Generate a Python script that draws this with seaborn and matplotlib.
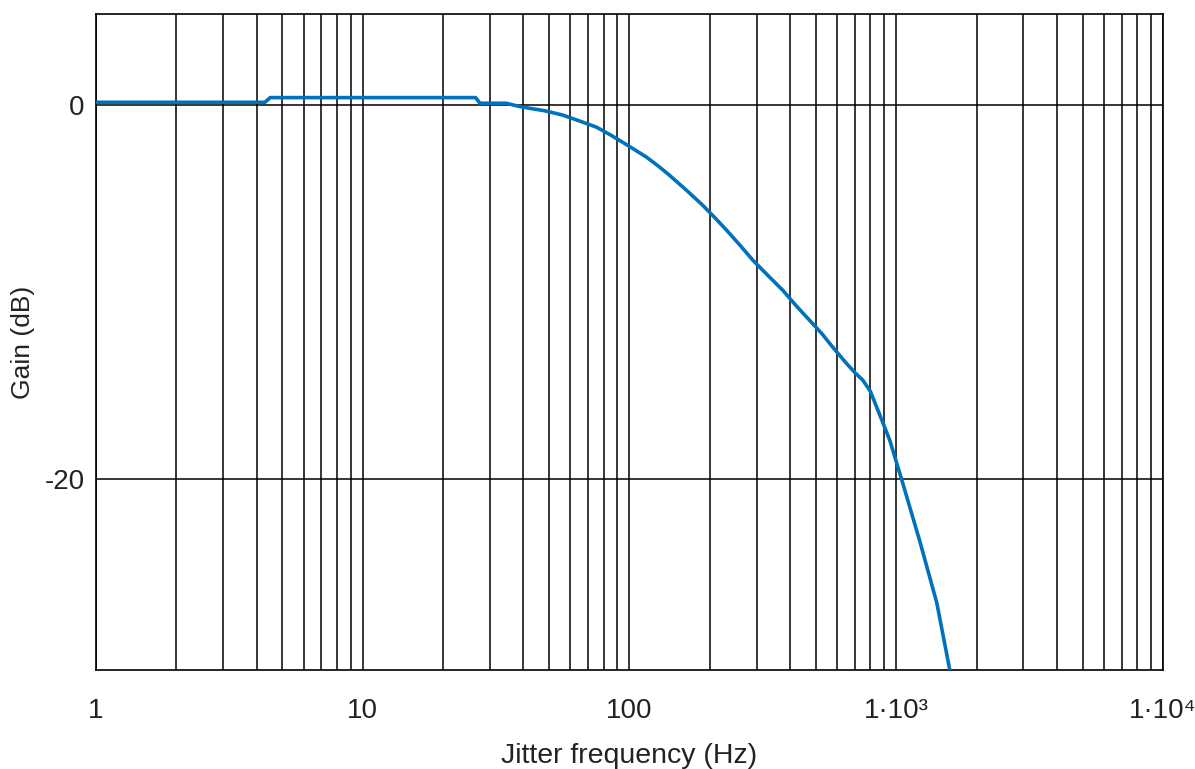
import numpy as np
import pandas as pd
import seaborn as sns
import matplotlib.pyplot as plt
from matplotlib.ticker import FixedLocator, LogLocator, NullFormatter

# gain curve
freq_hz = [1, 2, 4.3, 4.5, 8, 15, 26.5, 27.5, 34.5, 38, 42.2, 48, 56.1, 65, 75.2,
           85, 94.1, 105, 115.8, 128, 141, 165, 188, 210, 231, 260, 290, 330,
           375, 420, 473, 525, 578, 650, 700, 749, 800, 845, 945, 1050, 1225,
           1419, 1588, 1700]
gain_db = [0.15, 0.15, 0.15, 0.4, 0.4, 0.4, 0.4, 0.1, 0.1, -0.05, -0.17, -0.3,
           -0.53, -0.85, -1.18, -1.6, -1.98, -2.4, -2.78, -3.25, -3.74, -4.6,
           -5.35, -6.05, -6.68, -7.5, -8.29, -9.1, -9.89, -10.7, -11.5, -12.2,
           -12.94, -13.8, -14.3, -14.7, -15.3, -16.15, -17.9, -20.05, -23.3,
           -26.6, -30.2, -32.5]

x_ticks = [1, 10, 100, 1000, 10000]
x_labels = ["1", "10", "100", "1·10³", "1·10⁴"]
y_ticks = [0, -20]
y_labels = ["0", "-20"]

df = pd.DataFrame({"freq": freq_hz, "gain": gain_db})

sns.set_style("white")
plt.rcParams["font.family"] = ["Liberation Sans", "DejaVu Sans"]
plt.rcParams["text.color"] = "#222222"
plt.rcParams["axes.labelcolor"] = "#222222"
plt.rcParams["xtick.color"] = "#222222"
plt.rcParams["ytick.color"] = "#222222"

fig = plt.figure(figsize=(11.95, 7.69), dpi=100)
ax = fig.add_axes([0.0803, 0.1287, 0.8929, 0.8531])

sns.lineplot(data=df, x="freq", y="gain", ax=ax, color="#0072BD",
             linewidth=2.6, sort=False, zorder=3)

ax.set_xscale("log")
ax.set_xlim(1, 10000)
ax.set_ylim(-30.2, 4.87)

ax.xaxis.set_major_locator(FixedLocator(x_ticks))
ax.set_xticklabels(x_labels)
ax.xaxis.set_minor_locator(LogLocator(base=10, subs=np.arange(2, 10)))
ax.xaxis.set_minor_formatter(NullFormatter())
ax.set_yticks(y_ticks)
ax.set_yticklabels(y_labels)

ax.grid(True, which="major", axis="both", color="black", linewidth=1.1)
ax.grid(True, which="minor", axis="x", color="black", linewidth=1.1)
ax.tick_params(axis="both", which="both", length=0, labelsize=20)
ax.tick_params(axis="x", pad=20)
ax.tick_params(axis="y", pad=8)

for s in ax.spines.values():
    s.set_color("black")
    s.set_linewidth(1.2)

ax.set_xlabel("Jitter frequency (Hz)", fontsize=20.5, labelpad=14)
ax.set_ylabel("Gain (dB)", fontsize=19)
ax.yaxis.set_label_coords(-0.057, 0.5)

fig.savefig("out.png", dpi=100)
